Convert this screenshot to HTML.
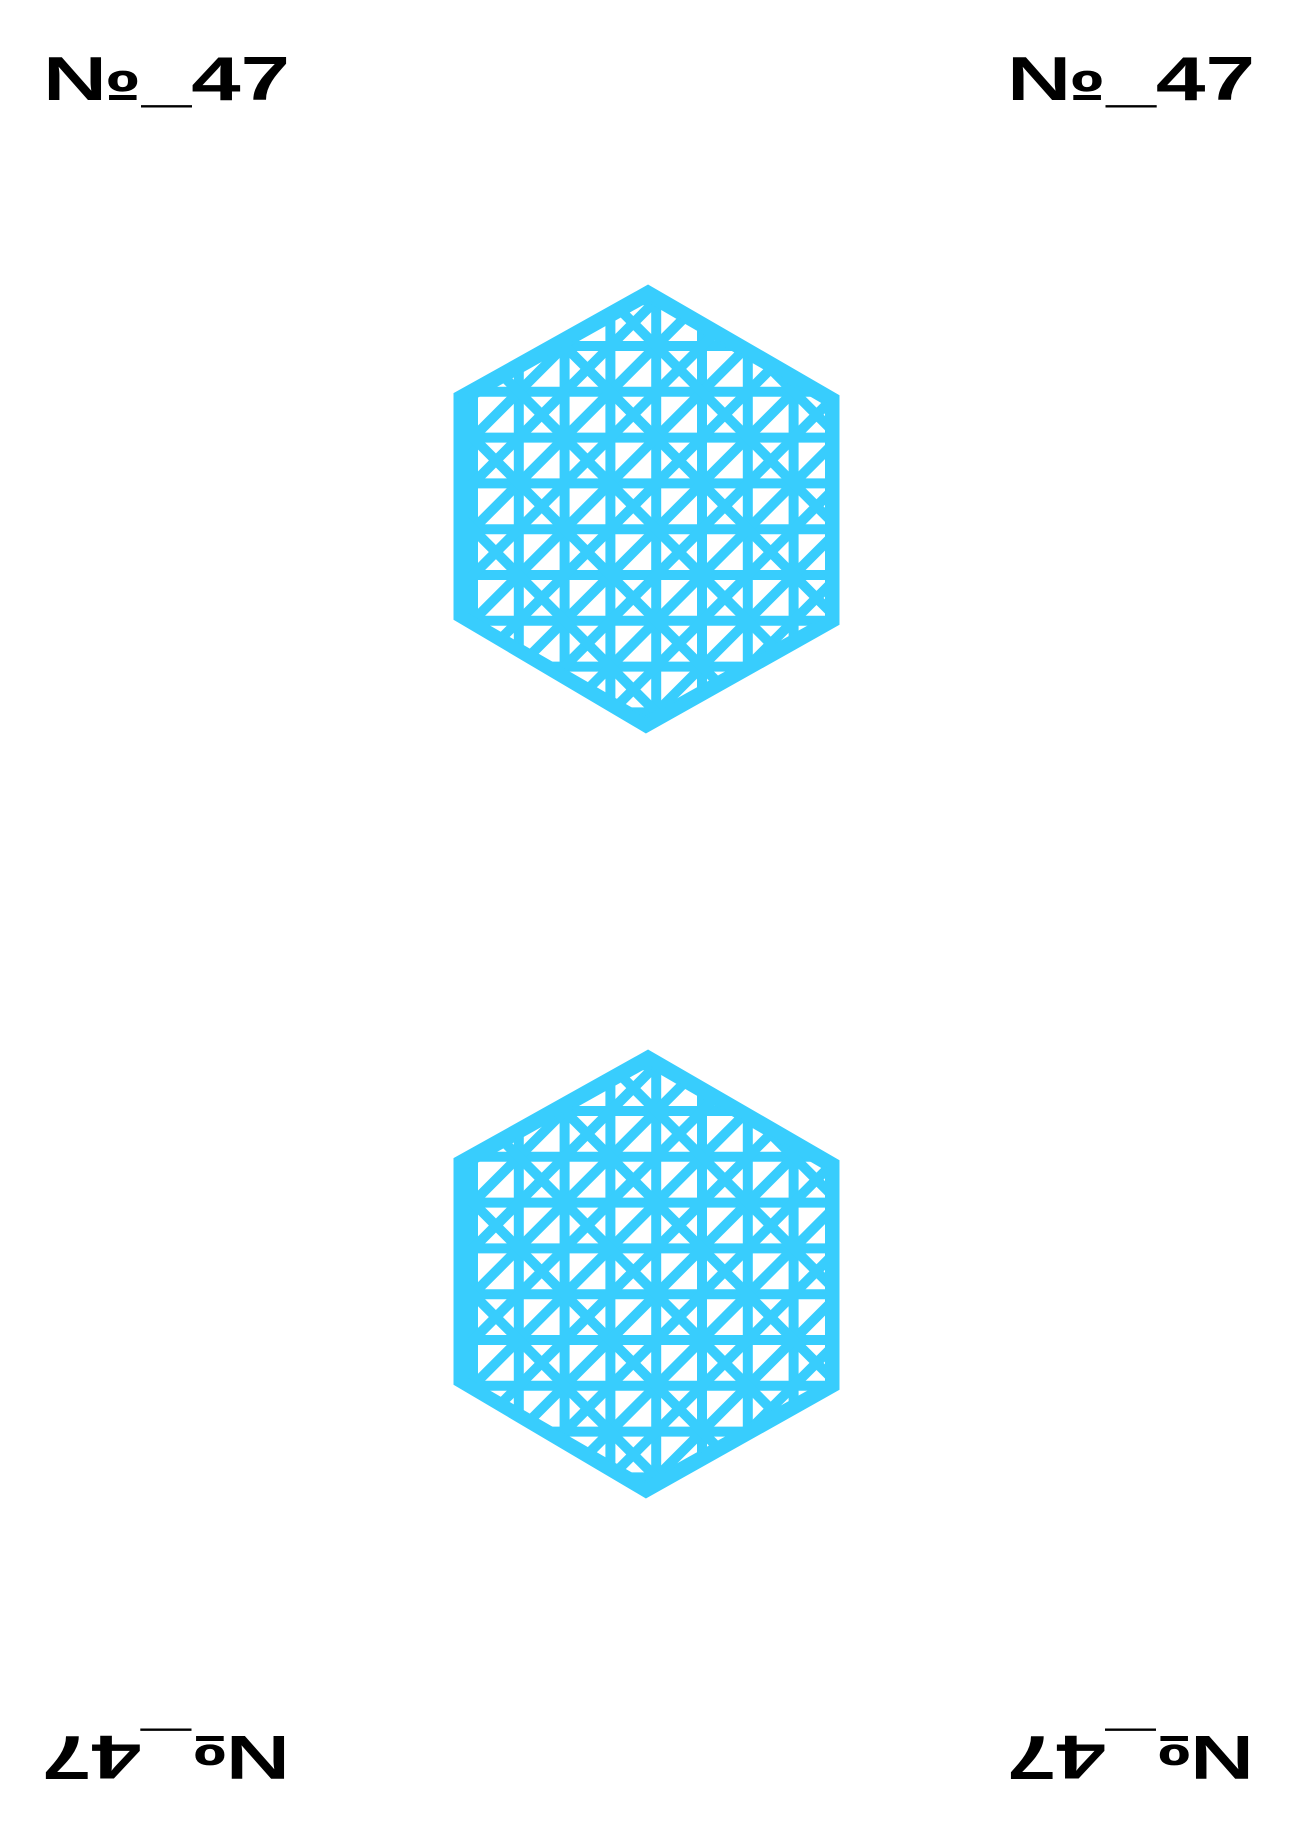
<!DOCTYPE html>
<html><head><meta charset="utf-8"><style>
html,body{margin:0;padding:0;background:#fff;width:1297px;height:1836px;overflow:hidden;}
svg{display:block;}
text{font-family:"Liberation Sans",sans-serif;font-weight:bold;fill:#000;}
</style></head><body>
<svg id="card" width="1297" height="1836" viewBox="0 0 1297 1836" xmlns="http://www.w3.org/2000/svg">
<defs>
<clipPath id="hexclip"><polygon points="648,300 827,404 827,617 646,718 466,614 466,402"/></clipPath>
</defs>
<text x="43" y="100" font-size="62" textLength="247" lengthAdjust="spacingAndGlyphs">№_47</text>
<text x="1007" y="100" font-size="62" textLength="248" lengthAdjust="spacingAndGlyphs">№_47</text>
<g transform="rotate(180 648.5 918)">
<text x="43" y="100" font-size="62" textLength="247" lengthAdjust="spacingAndGlyphs">№_47</text>
<text x="1007" y="100" font-size="62" textLength="248" lengthAdjust="spacingAndGlyphs">№_47</text>
</g>
<g id="hex1"></g>
<g id="hex2" transform="translate(0 765)"></g>
</svg>
<script>
const NS='http://www.w3.org/2000/svg';
const color='#38cdfd';
function build(g){
  const lat=document.createElementNS(NS,'g');
  lat.setAttribute('clip-path','url(#hexclip)');
  
  
  lat.setAttribute('stroke',color);
  lat.setAttribute('stroke-width','10');
  const step=45.8;
  const x0=473, y0=346;
  for(let i=-2;i<12;i++){
    const v=document.createElementNS(NS,'line');
    
    
    const x=x0+i*step;
    v.setAttribute('x1',x);v.setAttribute('x2',x);v.setAttribute('y1',250);v.setAttribute('y2',780);
    lat.appendChild(v);
    const h=document.createElementNS(NS,'line');
    
    
    const y=y0+i*step;
    h.setAttribute('x1',420);h.setAttribute('x2',880);h.setAttribute('y1',y);h.setAttribute('y2',y);
    lat.appendChild(h);
  }
  for(let k=-24;k<24;k++){
    const c=x0+y0+k*step;
    const d1=document.createElementNS(NS,'line');
    
    
    d1.setAttribute('x1',400);d1.setAttribute('y1',c-400);d1.setAttribute('x2',900);d1.setAttribute('y2',c-900);
    lat.appendChild(d1);
  }
  for(let k=-12;k<12;k++){
    const c2=y0-x0+k*2*step;
    const d2=document.createElementNS(NS,'line');
    
    
    d2.setAttribute('x1',400);d2.setAttribute('y1',400+c2);d2.setAttribute('x2',900);d2.setAttribute('y2',900+c2);
    lat.appendChild(d2);
  }
  g.appendChild(lat);
  const inner=document.createElementNS(NS,'polygon');
  
  
  inner.setAttribute('points','648,300 827,404 827,617 646,718 466,614 466,402');
  inner.setAttribute('fill','none');inner.setAttribute('stroke',color);inner.setAttribute('stroke-width','4');
  g.appendChild(inner);
  const outer=document.createElementNS(NS,'polygon');
  
  
  outer.setAttribute('points','648,292 833,399 833,621 646,726 460,616 460,397');
  outer.setAttribute('fill','none');outer.setAttribute('stroke',color);outer.setAttribute('stroke-width','13');
  g.appendChild(outer);
}
build(document.getElementById('hex1'));
build(document.getElementById('hex2'));
</script>
</body></html>
